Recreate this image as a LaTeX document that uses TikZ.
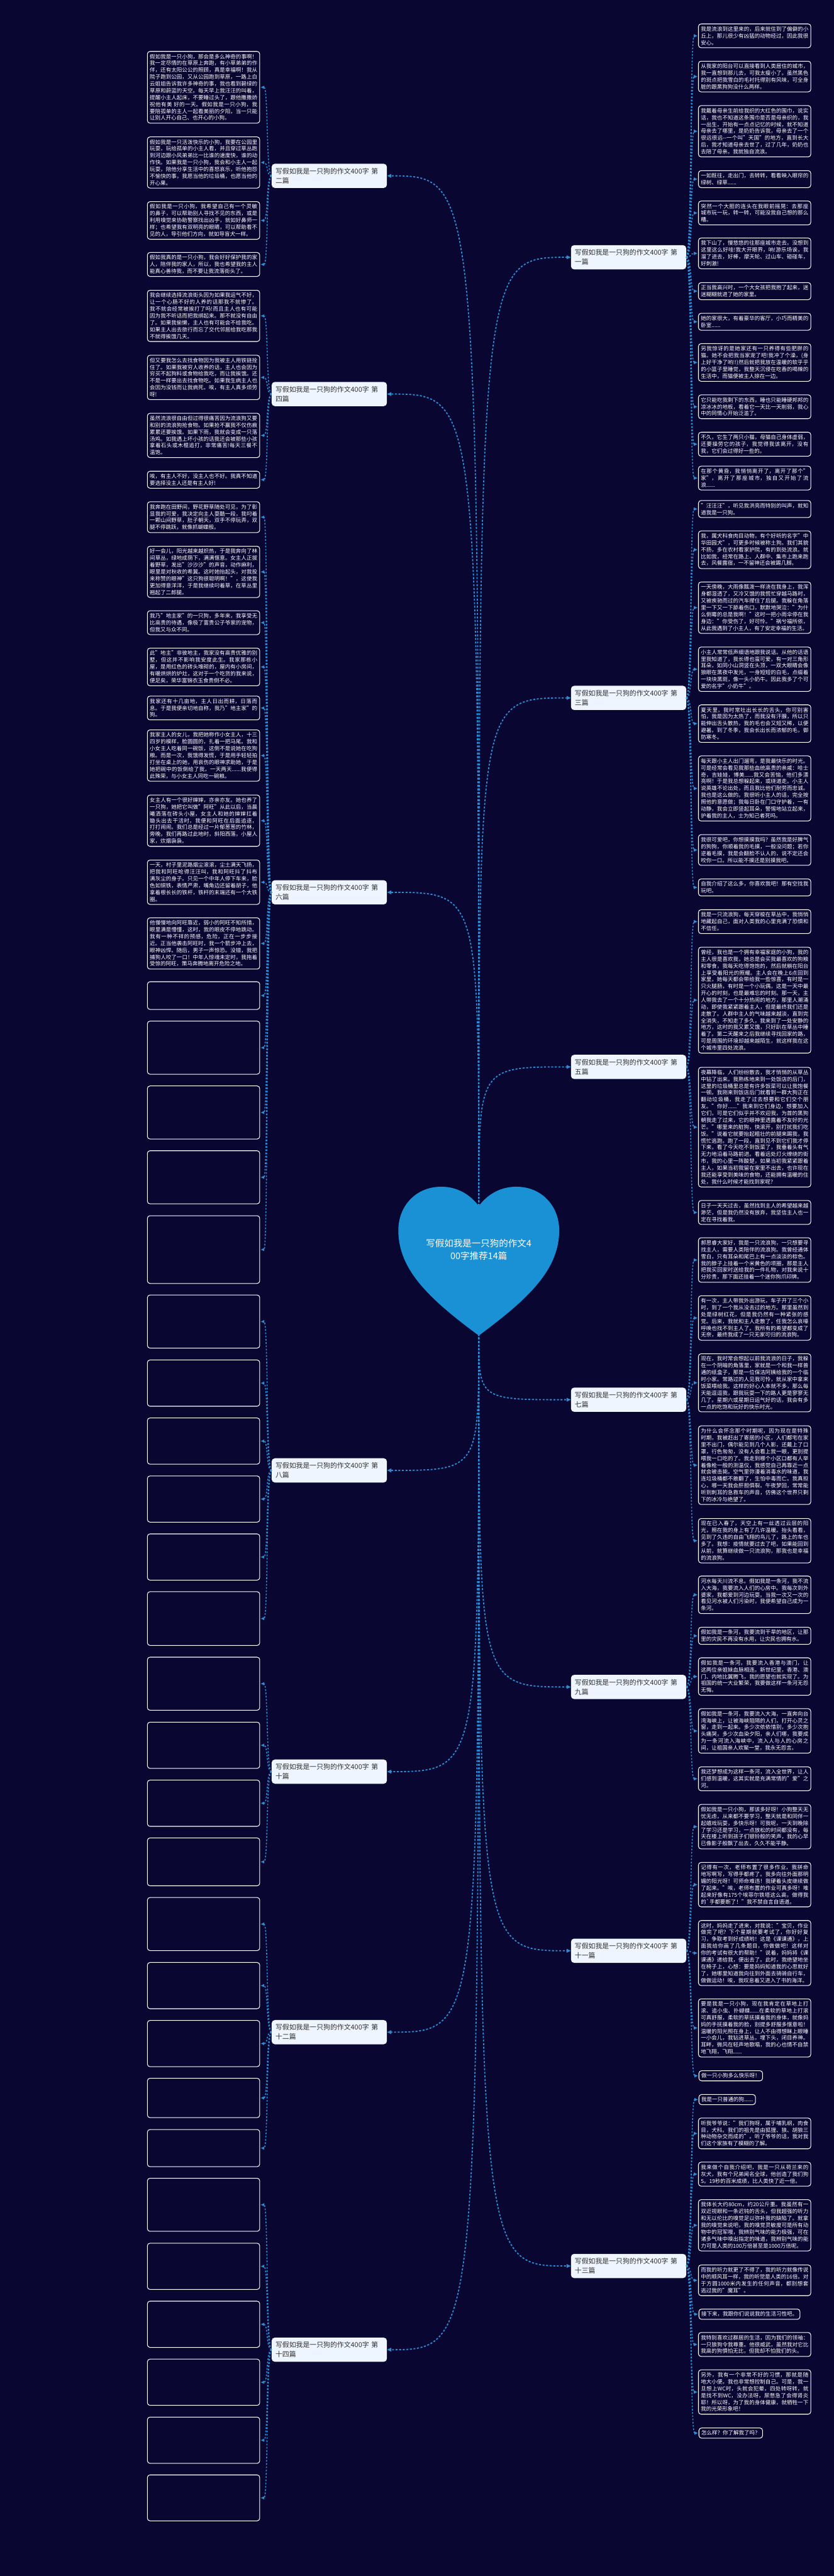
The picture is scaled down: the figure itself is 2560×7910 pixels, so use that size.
\documentclass[tikz,border=0pt]{standalone}
\usepackage{fontspec}
\setmainfont{Noto Sans CJK SC}
\XeTeXlinebreaklocale "zh"
\XeTeXlinebreakskip=0pt plus 1pt
\usetikzlibrary{arrows.meta}

\definecolor{bgnavy}{HTML}{0A0632}
\definecolor{linkblue}{HTML}{2B8CD6}
\definecolor{heartblue}{HTML}{1A90D5}
\definecolor{branchfill}{HTML}{EEF5FE}
\definecolor{branchtext}{HTML}{333333}

\begin{document}
\begin{tikzpicture}[x=1pt,y=-1pt,
	leaf/.style={draw=white,line width=2pt,rounded corners=8pt,fill=bgnavy,text=white,
		font=\fontsize{16.4}{21}\selectfont,text width=330pt,align=justify,inner xsep=7.5pt,inner ysep=8pt},
	leafshort/.style={draw=white,line width=2pt,rounded corners=8pt,fill=bgnavy,text=white,
		font=\fontsize{16.4}{21}\selectfont,inner xsep=7.5pt,inner ysep=8pt},
	branch/.style={fill=branchfill,rounded corners=10pt,text=branchtext,
		font=\fontsize{21}{29}\selectfont,text width=330pt,align=left,inner xsep=12pt,inner ysep=13pt},
	rootline/.style={linkblue,line width=3.5pt,dash pattern=on 6pt off 5pt,-{Triangle[length=13pt,width=11pt]}},
	leafline/.style={linkblue,line width=3pt,dash pattern=on 5pt off 5pt,shorten >=2pt,-{Triangle[length=11pt,width=9pt]}},
]

		\fill[bgnavy] (0,0) rectangle (2560,7910);
		\useasboundingbox (0,0) rectangle (2560,7910);

		% branches
		\node[branch] (b1) at (1930,790) {写假如我是一只狗的作文400字 第\\一篇};
		\node[branch] (b2) at (1011,540) {写假如我是一只狗的作文400字 第\\二篇};
		\node[branch] (b3) at (1930,2143) {写假如我是一只狗的作文400字 第\\三篇};
		\node[branch] (b4) at (1011,1210) {写假如我是一只狗的作文400字 第\\四篇};
		\node[branch] (b5) at (1930,3276) {写假如我是一只狗的作文400字 第\\五篇};
		\node[branch] (b6) at (1011,2740) {写假如我是一只狗的作文400字 第\\六篇};
		\node[branch] (b7) at (1930,4298) {写假如我是一只狗的作文400字 第\\七篇};
		\node[branch] (b8) at (1011,4515) {写假如我是一只狗的作文400字 第\\八篇};
		\node[branch] (b9) at (1930,5180) {写假如我是一只狗的作文400字 第\\九篇};
		\node[branch] (b10) at (1011,5440) {写假如我是一只狗的作文400字 第\\十篇};
		\node[branch] (b11) at (1930,5990) {写假如我是一只狗的作文400字 第\\十一篇};
		\node[branch] (b12) at (1011,6240) {写假如我是一只狗的作文400字 第\\十二篇};
		\node[branch] (b13) at (1930,6958) {写假如我是一只狗的作文400字 第\\十三篇};
		\node[branch] (b14) at (1011,7215) {写假如我是一只狗的作文400字 第\\十四篇};

		\coordinate (rtop) at (1470,3703);
		\coordinate (rbot) at (1470,4096);

		\draw[rootline] (rtop) .. controls (rtop |- b1.west) and (rtop |- b1.west) .. (b1.west);
		\draw[rootline] (rtop) .. controls (rtop |- b2.east) and (rtop |- b2.east) .. (b2.east);
		\draw[rootline] (rtop) .. controls (rtop |- b3.west) and (rtop |- b3.west) .. (b3.west);
		\draw[rootline] (rtop) .. controls (rtop |- b4.east) and (rtop |- b4.east) .. (b4.east);
		\draw[rootline] (rtop) .. controls (rtop |- b5.west) and (rtop |- b5.west) .. (b5.west);
		\draw[rootline] (rtop) .. controls (rtop |- b6.east) and (rtop |- b6.east) .. (b6.east);
		\draw[rootline] (rbot) .. controls (rbot |- b7.west) .. (b7.west);
		\draw[rootline] (rbot) .. controls (rbot |- b8.east) .. (b8.east);
		\draw[rootline] (rbot) .. controls (rbot |- b9.west) and (rbot |- b9.west) .. (b9.west);
		\draw[rootline] (rbot) .. controls (rbot |- b10.east) and (rbot |- b10.east) .. (b10.east);
		\draw[rootline] (rbot) .. controls (rbot |- b11.west) and (rbot |- b11.west) .. (b11.west);
		\draw[rootline] (rbot) .. controls (rbot |- b12.east) and (rbot |- b12.east) .. (b12.east);
		\draw[rootline] (rbot) .. controls (rbot |- b13.west) and (rbot |- b13.west) .. (b13.west);
		\draw[rootline] (rbot) .. controls (rbot |- b14.east) and (rbot |- b14.east) .. (b14.east);

		% heart
		\fill[heartblue] (1470,3703) .. controls (1500,3664) and (1540,3644) .. (1585,3644)
			.. controls (1665,3644) and (1717,3705) .. (1717,3778)
			.. controls (1717,3900) and (1620,3990) .. (1470,4101)
			.. controls (1320,3990) and (1223,3900) .. (1223,3778)
			.. controls (1223,3705) and (1275,3644) .. (1355,3644)
			.. controls (1400,3644) and (1440,3664) .. (1470,3703) -- cycle;
		\node[text=white,font=\fontsize{28}{37}\selectfont,align=center] (root) at (1470,3837) {写假如我是一只狗的作文4\\00字推荐14篇};

		% first
		\node[leaf] (r1a) at (2317,110) {我是流浪到这里来的，后来就住到了偏僻的小丘上，那儿很少有凶猛的动物经过，因此我很安心。};
		\node[leaf] (r1b) at (2317,235) {从我家的阳台可以直接看到人类居住的城市，我一直想到那儿去，可我太瘦小了。虽然黑色的斑点把我雪白的毛衬托得别有风味，可全身脏的跟黑狗狗没什么两样。};
		\node[leaf] (r1c) at (2317,403) {我戴着母亲生前给我织的大红色的围巾，说实话，我也不知道这条围巾是否是母亲织的，我一出生，开始有一点点记忆的时候，就不知道母亲去了哪里，是奶奶告诉我，母亲去了一个很远很远-{}-一个叫"天国"的地方，直到长大后，我才知道母亲去世了，过了几年，奶奶也去陪了母亲。我就独自流浪。};
		\node[leaf] (r1d) at (2317,550) {一如既往，走出门，去转转，看看映入眼帘的绿树、绿草......};
		\node[leaf] (r1e) at (2317,654) {突然一个大胆的连头在我眼前摇晃：去那座城市玩一玩，转一转，可能没我自己想的那么糟。};
		\node[leaf] (r1f) at (2317,778) {我下山了，慢悠悠的往那座城市走去。没想到这里这么好哇!我大开眼界，呐!游乐场诶，我溜了进去，好棒，摩天轮、过山车、碰碰车，好刺激!};
		\node[leaf] (r1g) at (2317,894) {正当我高兴时，一个大女孩把我抱了起来，迷迷糊糊就进了她的家里。};
		\node[leaf] (r1h) at (2317,988) {她的家很大，有着豪华的客厅，小巧而精美的卧室......};
		\node[leaf] (r1i) at (2317,1113) {另我惊讶的是她家还有一只养得有些肥胖的猫。她不会把我当家宠了吧!我冲了个澡，(身上好干净了哟!!)然后就把我放在温暖的软乎乎的小篮子里睡觉，我整天沉侵在吃香的喝辣的生活中，而猫便被主人掠在一边。};
		\node[leaf] (r1j) at (2317,1249) {它只能吃我剩下的东西，睡也只能睡硬邦邦的凉冰冰的地板，看着它一天比一天削弱，我心中的同情心开始泛滥了。};
		\node[leaf] (r1k) at (2317,1364) {不久，它生了两只小猫，母猫自己身体虚弱，还要操劳它的孩子，我觉得我该离开，没有我，它们会过得好一些的。};
		\node[leaf] (r1l) at (2317,1468) {在那个黄昏，我悄悄离开了，离开了那个"家"，离开了那座城市，独自又开始了流浪......};

		\foreach \n in {r1a,r1b,r1c,r1d,r1e,r1f,r1g,r1h,r1i,r1j,r1k,r1l}
			\draw[leafline] (b1.east) .. controls +(17,0) and +(-25,0) .. (\n.west);

		% second
		\node[leaf] (l2a) at (625,268) {假如我是一只小狗，那会是多么神奇的事啊！我一定尽情的在草原上奔跑，有小草弟弟的作伴，还有太阳公公的照顾，真是幸福啊！我从院子跑到公园，又从公园跑到草原，一路上白云姐姐告诉我许多神奇的事，我也看到碧绿的草原和蔚蓝的天空。每天早上我汪汪的叫着，提醒小主人起床，不要睡过头了，跟他撒撒娇祝他有美 好的一天。假如我是一只小狗，我要陪孤单的主人一起看美丽的夕阳，当一只能让别人开心自己、也开心的小狗。};
		\node[leaf] (l2b) at (625,499) {假如我是一只活泼快乐的小狗，我要在公园里玩耍，玩给孤单的小主人看，并且穿过草丛跑到河边跟小风弟弟比一比谁的速度快，谁的动作快。如果我是一只小狗，我会和小主人一起玩耍，陪他分享生活中的喜怒哀乐，听他抱怨不愉快的事，我愿当他的垃圾桶，也愿当他的开心果。};
		\node[leaf] (l2c) at (625,677) {假如我是一只小狗，我希望自己有一个灵敏的鼻子，可以帮助别人寻找不见的东西，或是利用嗅觉来协助警察找出凶手，就如好鼻师一样；也希望我有双明亮的眼睛，可以帮助看不见的人，导引他们方向，就如导盲犬一样。};
		\node[leaf] (l2d) at (625,812) {假如我真的是一只小狗，我会好好保护我的家人，陪伴我的家人，所以，我也希望我的主人能真心善待我，而不要让我流落街头了。};

		\foreach \n in {l2a,l2b,l2c,l2d}
			\draw[leafline] (b2.west) .. controls +(-17,0) and +(25,0) .. (\n.east);

		% third
		\node[leaf] (r3a) at (2317,1563) {"汪汪汪"，听见我洪亮而特别的叫声，就知道我是一只狗。};
		\node[leaf] (r3b) at (2317,1688) {我，属犬科食肉目动物，有个好听的名字"中华田园犬"，可更多时候被称土狗。我们其貌不扬，多在农村看家护院，有的到处流浪。就比如我，经常在路上、人群中、集市上跑来跑去，风餐露宿，一不留神还会被踢几脚。};
		\node[leaf] (r3c) at (2317,1866) {一天傍晚，大雨像瓢泼一样浇在我身上，我浑身都湿透了，又冷又饿的我慌忙穿越马路时，又被疾驰而过的汽车撵住了后腿。我躲在角落里一下又一下舔着伤口，默默地哭泣："为什么倒霉的总是我啊！"这时一把小雨伞停在我身边："你受伤了，好可怜。"祸兮福所依，从此我遇到了小主人，有了安定幸福的生活。};
		\node[leaf] (r3d) at (2317,2055) {小主人常常低声细语地跟我说话。从他的话语里我知道了，我长得也蛮可爱，有一对三角形耳朵，如同小山洞竖在头顶，一双大眼睛会像狼眼在黑夜中发光，一身短短的白毛，点缀着一块块黑斑，像一头小奶牛。因此我多了个可爱的名字"小奶牛"。};
		\node[leaf] (r3e) at (2317,2222) {夏天里，我时常吐出长长的舌头，你可别害怕，我是因为太热了，而我没有汗腺，所以只能伸出舌头散热，我的毛也会又短又稀，以便避暑。到了冬季，我会长出长而浓郁的毛，御防寒冬。};
		\node[leaf] (r3f) at (2317,2421) {每天跟小主人出门遛弯，是我最快乐的时光。可是经常会看见我那些血统高贵的亲戚：哈士奇，吉娃娃，博美......我又会苦恼，他们多漂亮啊！于是我总想躲起来，或绕道走。小主人说英雄不论出处，而且我比他们耐劳而忠诚。我也是这么做的。我很听小主人的话，完全按照他的意愿做；我每日卧在门口守护着，一有动静，我会立即竖起耳朵，警惕地站立起来，护着我的主人，士为知己者死吗。};
		\node[leaf] (r3g) at (2317,2610) {我很可爱吧，你想摸摸我吗？虽然我是好脾气的狗狗，你顺着我的毛摸，一般没问题；若你逆着毛摸，我是会翻脸不认人的，说不定还会咬你一口。所以能不摸还是别摸我吧。};
		\node[leaf] (r3h) at (2317,2725) {自我介绍了这么多，你喜欢我吧！那有空找我玩吧。};

		\foreach \n in {r3a,r3b,r3c,r3d,r3e,r3f,r3g,r3h}
			\draw[leafline] (b3.east) .. controls +(17,0) and +(-25,0) .. (\n.west);

		% fourth
		\node[leaf] (l4a) at (625,970) {我会继续选择流浪街头因为如果我运气不好，让一个心肠不好的人养的话那我不就惨了。我不就会经常被挨打了吗!而且主人也有可能因为我不听话而把我绑起来。那不就没有自由了。如果我偷懒，主人也有可能会不给我吃。如果主人出去旅行而忘了交代邻居给我吃那我不就得挨饿几天。};
		\node[leaf] (l4b) at (625,1159) {但又要我怎么去找食物因为我被主人用铁链拴住了。如果我被穷人收养的话，主人也会因为穷买不起狗料或食物给我吃，而让我挨饿。还不是一样要出去找食物吃。如果我生病主人也会因为没钱而让我病死。唉，有主人真多烦劳呀!};
		\node[leaf] (l4c) at (625,1337) {虽然流浪很自由但过得很痛苦因为流浪狗又要和别的流浪狗抢食物。如果抢不赢我不仅伤痕累累还要挨饿。如果下雨，我就会变成一只落汤鸡。如我遇上坏小孩的话我还会被那些小孩拿着石头或木棍追打，非常痛苦!每天三餐不温饱。};
		\node[leaf] (l4d) at (625,1473) {唉，有主人不好，没主人也不好。我真不知道要选择没主人还是有主人好!};

		\foreach \n in {l4a,l4b,l4c,l4d}
			\draw[leafline] (b4.west) .. controls +(-17,0) and +(25,0) .. (\n.east);

		% fifth
		\node[leaf] (r5a) at (2317,2830) {我是一只流浪狗，每天穿梭在草丛中，我悄悄地藏起自己，面对人类我的心里充满了恐惧和不信任。};
		\node[leaf] (r5b) at (2317,3071) {曾经，我也是一个拥有幸福家庭的小狗，我的主人很是喜欢我，她总是会买我最喜欢的狗粮和零食，我每天吃得饱饱的，然后就躺在阳台上享受着阳光的照耀。主人会在晚上6点回到家里，她每天都会带给我一些惊喜，有时是一只火腿肠，有时是一个小玩偶，这是一天中最开心的时刻，也是最难忘的时刻。那一天，主人带我去了一个十分热闹的地方，那里人潮涌动，即使我紧紧跟着主人，但是最终我们还是走散了。人群中主人的气味越来越淡，直到完全消失，不知走了多久，我来到了一处安静的地方，这时的我又累又饿，只好趴在草丛中睡着了。第二天醒来之后我继续寻找回家的路，可是周围的环境却越来越陌生，就这样我在这个城市里四处流浪。};
		\node[leaf] (r5c) at (2317,3461) {夜幕降临，人们纷纷散去，我才悄悄的从草丛中钻了出来。我熟练地来到一处饭店的后门，这里的垃圾桶里总是有许多饭菜可以让我饱餐一顿。我刚来到饭店后门就看到一群大狗正在翻动垃圾桶，我走了过去想要和它们交个朋友。"你好......"我来到它们身边，想要加入它们，可是它们似乎并不欢迎我，为首的黑狗朝我走了过来，它的眼神里透露着不友好的光芒。"哪里来的脏狗，快滚开，别打扰我们吃饭。"说着它就要抬起粗壮的前腿来踢我，我慌忙逃跑。跑了一段，直到见不到它们我才停下来，看了今天吃不到饭菜了，我垂着头有气无力地沿着马路前进。看着远处灯火缭绕的街市，我的心里一阵酸楚，如果当初我紧紧跟着主人，如果当初我留在家里不出去，也许现在我还能享受到美味的食物，还能拥有温暖的住处，我什么时候才能找到家呢？};
		\node[leaf] (r5d) at (2317,3723) {日子一天天过去，虽然找到主人的希望越来越渺茫，但是我仍然没有放弃，我坚信主人也一定在寻找着我。};

		\foreach \n in {r5a,r5b,r5c,r5d}
			\draw[leafline] (b5.east) .. controls +(17,0) and +(-25,0) .. (\n.west);

		% sixth
		\node[leaf] (l6a) at (625,1588) {我奔跑在田野间，野花野草随处可见，为了彰显我的可爱，我决定向主人耍酷一段，我叼着一颗山间野草，肚子朝天，双手不停玩弄，双腿不停跳跃，就像抓蝴蝶般。};
		\node[leaf] (l6b) at (625,1756) {好一会儿，阳光越来越炽热，于是我奔向了林间草丛，绿地成荫下，满满惬意。女主人正拔着野草，发出"沙沙沙"的声音，动作麻利，眼里是对秋收的希冀。这时她抬起头，对我投来称赞的眼神"这只狗很聪明啊！"，这使我更加得意洋洋，于是我继续叼着草，在草丛里翘起了二郎腿。};
		\node[leaf] (l6c) at (625,1912) {我乃"地主家"的一只狗，多年来，我享受无比高贵的待遇，像极了富贵公子爷家的宠物，但我又与众不同。};
		\node[leaf] (l6d) at (625,2048) {此"地主"非彼地主，我家没有高贵优雅的别墅，但这并不影响我安度此生。我家那栋小屋，是用红色的砖头堆砌的，屋内有小房间，有暖烘烘的炉灶，这对于一个吃货的我来说，便足矣，荣华富锦衣玉食贵倒不必。};
		\node[leaf] (l6e) at (625,2174) {我家还有十几亩地，主人日出而耕，日落而息。于是我便亲切地自称，我乃"地主家"的狗。};
		\node[leaf] (l6f) at (625,2320) {我家主人的女儿，我把她称作小女主人，十三四岁的模样，脸圆圆的，扎着一把马尾。我和小女主人吃着同一碗饭，这倒不是说她在吃狗粮。而是一次，我饿得发慌，于是用手轻轻拍打坐在桌上的她，用哀伤的眼神求助她，于是她把碗中的饭倒给了我，一天两天......我便得此殊荣，与小女主人同吃一碗粮。};
		\node[leaf] (l6g) at (625,2520) {女主人有一个很好婶婶，亦亲亦友。她也养了一只狗，她把它叫做"阿旺"从此以后，当晨曦洒落在砖头小屋，女主人和她的婶婶扛着锄头出去干活时，我便和阿旺在后面追逐，打打闹闹。我们总是经过一片郁葱葱的竹林，旁晚，我们再路过此地时，斜阳西落，小屋人家，炊烟袅袅。};
		\node[leaf] (l6h) at (625,2709) {一天，村子里泥路烟尘滚滚，尘土满天飞扬，把我和阿旺呛得汪汪叫，我和阿旺抖了抖布满灰尘的身子。只见一个中年人停下车来，脸色如铜铁，表情严肃，嘴角边还留着胡子，他拿着根长长的铁杆，铁杆的末端还有一个大铁圈。};
		\node[leaf] (l6i) at (625,2897) {他慢慢地向阿旺靠近，弱小的阿旺不知所措，眼里满是懵懂，这时，我的眼皮不停地跳动。我有一种不祥的预感，危险，正在一步步接近。正当他袭击阿旺时，我一个箭步冲上去，眼神凶悍。随后，男子一声惊恐。没错，我把捕狗人咬了一口！中年人惊魂未定时，我拖着受惊的阿旺，策马奔腾地离开危险之地。};

		\foreach \n in {l6a,l6b,l6c,l6d,l6e,l6f,l6g,l6h,l6i}
			\draw[leafline] (b6.west) .. controls +(-17,0) and +(25,0) .. (\n.east);

		% lower left boxes, text not legible at this size
		\foreach \n/\c/\h in {l6j/3057/85,l6k/3217/163,l6l/3416/163,l6m/3615/163,l6n/3837/208}{
			\node[leaf,minimum height=\h pt] (\n) at (625,\c) {};
			\draw[leafline] (b6.west) .. controls +(-17,0) and +(25,0) .. (\n.east);
		}
		\foreach \n/\c/\h in {l8a/4058/163,l8b/4247/142,l8c/4425/142,l8d/4603/142,l8e/4781/142,l8f/4970/165}{
			\node[leaf,minimum height=\h pt] (\n) at (625,\c) {};
			\draw[leafline] (b8.west) .. controls +(-17,0) and +(25,0) .. (\n.east);
		}
		\foreach \n/\c/\h in {l10a/5170/163,l10b/5359/142,l10c/5537/142,l10d/5717/147}{
			\node[leaf,minimum height=\h pt] (\n) at (625,\c) {};
			\draw[leafline] (b10.west) .. controls +(-17,0) and +(25,0) .. (\n.east);
		}
		\foreach \n/\c/\h in {l12a/5908/163,l12b/6097/142,l12c/6275/142,l12d/6442/121,l12e/6596/114}{
			\node[leaf,minimum height=\h pt] (\n) at (625,\c) {};
			\draw[leafline] (b12.west) .. controls +(-17,0) and +(25,0) .. (\n.east);
		}
		\foreach \n/\c/\h in {l14a/6770/163,l14b/6959/142,l14c/7137/142,l14d/7315/142,l14e/7493/142,l14f/7670/141}{
			\node[leaf,minimum height=\h pt] (\n) at (625,\c) {};
			\draw[leafline] (b14.west) .. controls +(-17,0) and +(25,0) .. (\n.east);
		}

		% seventh
		\node[leaf] (r7a) at (2317,3869) {郝思睿大家好，我是一只流浪狗，一只想要寻找主人，需要人类陪伴的流浪狗。我曾经通体雪白，只有耳朵和尾巴上有一点淡淡的棕色。我的脖子上挂着一个米黄色的项圈，那是主人把我买回家时送给我的一件礼物，对我来说十分珍贵，那下面还挂着一个迷你狗爪印牌。};
		\node[leaf] (r7b) at (2317,4047) {有一次，主人带我外出游玩，车子开了三个小时，到了一个我从没去过的地方。那里虽然到处是绿树红花，但是我仍然有一种紧张的感觉。后来，我就和主人走散了，任我怎么哀嚎呼唤也找不到主人了。我所有的希望都变成了无奈，最终我成了一只无家可归的流浪狗。};
		\node[leaf] (r7c) at (2317,4246) {现在，我时常会想起以前我流浪的日子，我躲在一个阴暗的角落里，家就是一个和我一样普通的纸盒子，那是一位保洁阿姨给我的一个临时小家。常路过的人见我可怜，就从家中拿来饭菜喂给我。这样的好心人本就不多，那么每天能逗逗我，跟我玩耍一下的路人更是寥寥无几了。星期六或星期日运气好的话，我会有多一点的吃饱和玩好的快乐时光。};
		\node[leaf] (r7d) at (2317,4499) {为什么会怀念那个时期呢，因为现在是特殊时期，我被赶出了寄居的小区，人们都宅在家里不出门，偶尔能见到几个人影，还戴上了口罩，行色匆匆，没有人会看上我一眼，更别提喂我一口吃的了。我走到哪个小区口都有人举着像枪一般的测温仪，我感觉自己再靠近一点就会被击毙。空气里弥漫着消毒水的味道，我连垃圾桶都不敢翻了，生怕中毒而亡。我真担心，哪一天我会肝胆俱裂。午夜梦回，常常能听到刺耳的急救车的声音，仿佛这个世界只剩下的冰冷与绝望了。};
		\node[leaf] (r7e) at (2317,4731) {现在已入春了，天空上有一丝透过云层的阳光，照在我的身上有了几许温暖。抬头看看，见到了久违的自由飞翔的鸟儿了，路上的车也多了。我想：疫情就要过去了吧，如果能回到从前，就算继续做一只流浪狗，那我也是幸福的流浪狗。};

		\foreach \n in {r7a,r7b,r7c,r7d,r7e}
			\draw[leafline] (b7.east) .. controls +(17,0) and +(-25,0) .. (\n.west);

		% ninth
		\node[leaf] (r9a) at (2317,4897) {河水每天川流不息。假如我是一条河，我不流入大海，我要流入人们的心房中。我每次到外婆家，我都爱到河边玩耍。当我一次又一次的看见河水被人们污染时，我便希望自己成为一条河。};
		\node[leaf] (r9b) at (2317,5023) {假如我是一条河，我要流到干旱的地区，让那里的灾民不再没有水用，让灾民也拥有水。};
		\node[leaf] (r9c) at (2317,5148) {假如我是一条河，我要流入香港与澳门，让这两位亲姐妹血脉相连。新世纪里，香港、澳门、内地比翼腾飞，我的愿望也就实现了。为祖国的统一大业繁荣，我要做这样一条河无怨无悔。};
		\node[leaf] (r9d) at (2317,5315) {假如我是一条河，我要流入大海，一直奔向台湾海峡上，让被海峡阻隔的人们，打开心灵之窗，走到一起来。多少次依依惜别，多少次抱头痛哭，多少次血染夕阳，亲人们哪，我要成为一条河流入海峡中，流入人与人的心房之间，让祖国亲人欢聚一堂，我永无怨言。};
		\node[leaf] (r9e) at (2317,5462) {我还梦想成为这样一条河，流入全世界，让人们感到温暖，这其实就是充满常情的"爱"之河。};

		\foreach \n in {r9a,r9b,r9c,r9d,r9e}
			\draw[leafline] (b9.east) .. controls +(17,0) and +(-25,0) .. (\n.west);

		% eleventh
		\node[leaf] (r11a) at (2317,5609) {假如我是一只小狗，那该多好呀！小狗整天无忧无虑，从来都不要学习，整天就是和同伴一起嬉戏玩耍，多快乐呀！可我呢，一天到晚除了学习还是学习，一点放松的时间都没有，每天在楼上听到孩子们银铃般的笑声，我的心早已像影子般飘了出去，久久不能平静。};
		\node[leaf] (r11b) at (2317,5787) {记得有一次，老师布置了很多作业，我拼命地写啊写，写得手都疼了。我多向往外面那明媚的阳光呀！可师命难违！我硬着头皮继续做了起来。"唉，老师布置的作业可真多呀！堆起来好像有175个埃菲尔铁塔这么高，做得我的\textasciigrave 手都要断了！"我不禁自言自语道。};
		\node[leaf] (r11c) at (2317,5997) {这时，妈妈走了进来，对我说："宝贝，作业做完了吧？下个星期就要考试了，你好好复习，争取考到好成绩哟！这是《课课通》，上面我给你画了几条题目，你做做吧！这样对你的考试有很大的帮助！"说着，妈妈将《课课通》递给我，便出去了。此时，我绝望地坐在椅子上，心想：要是妈妈知道我的心思就好了，她哪里知道我向往到外面去骑骑自行车，做做运动！唉，我叹息着又进入了书的海洋。};
		\node[leaf] (r11d) at (2317,6227) {要是我是一只小狗，现在我肯定在草地上打滚、追小虫、扑蝴蝶......在柔软的草地上打滚可真舒服，柔软的草抚摸着我的身体，就像妈妈的手抚摸着我的脸，别提多舒服多惬意啦！温暖的阳光照在身上，让人不由得想眯上眼睡一小会儿，我钻进草丛，埋下头，闭目养神。耳畔，微风在轻声地歌唱，我的心也情不自禁地飞翔，飞翔......};
		\node[leafshort,anchor=west] (r11e) at (2145,6374) {做一只小狗多么快乐呀！};

		\foreach \n in {r11a,r11b,r11c,r11d,r11e}
			\draw[leafline] (b11.east) .. controls +(17,0) and +(-25,0) .. (\n.west);

		% thirteenth
		\node[leafshort,anchor=west] (r13a) at (2145,6447) {我是一只普通的狗......};
		\node[leaf] (r13b) at (2317,6551) {听我爷爷说："我们狗呀，属于哺乳纲，肉食目，犬科。我们的祖先是由狐狸、狼、胡狼三种动物杂交而成的"。听了爷爷的话，我对我们这个家族有了模糊的了解。};
		\node[leaf] (r13c) at (2317,6676) {我来做个自我介绍吧，我是一只从荷兰来的灰犬，我有个兄弟闻名全球，他创造了我们狗5。19秒的百米成绩，比人类快了近一倍。};
		\node[leaf] (r13d) at (2317,6833) {我体长大约80cm，约20公斤重。我虽然有一双近视眼和一条迟钝的舌头，但我超强的听力和无以伦比的嗅觉足以弥补我的缺陷了。就拿我的嗅觉来说吧，我的嗅觉灵敏度可是所有动物中的冠军哦，我辨别气味的能力极强，可在诸多气味中嗅出指定的味道，我辨别气味的能力可是人类的100万倍甚至是1000万倍呢。};
		\node[leaf] (r13e) at (2317,7002) {而我的听力就更了不得了，我的听力就像传说中的顺风耳一样，我的听觉是人类的16倍。对于方圆1000米内发生的任何声音，都别想套逃过我的"魔耳"。};
		\node[leafshort,anchor=west] (r13f) at (2145,7106) {接下来，我跟你们说说我的生活习性吧。};
		\node[leaf] (r13g) at (2317,7199) {我特别喜欢过群居的生活，因为我们的领袖：一只狼狗令我尊重。他很威武，虽然我对它比我高的狗惧怕无比，但我却不怕我们的头。};
		\node[leaf] (r13h) at (2317,7345) {另外，我有一个非常不好的习惯，那就是随地大小便。我也非常想控制自己。可是，我一旦想上WC时，头就会犯晕，四处转呀转，就是找不到WC，没办法呀，尿憋急了会得肾炎耶！所以呀，为了我的身体健康，就牺牲一下我的光荣形象吧！};
		\node[leafshort,anchor=west] (r13i) at (2145,7471) {怎么样？你了解我了吗？};

		\foreach \n in {r13a,r13b,r13c,r13d,r13e,r13f,r13g,r13h,r13i}
			\draw[leafline] (b13.east) .. controls +(17,0) and +(-25,0) .. (\n.west);

	\end{tikzpicture}
\end{document}
